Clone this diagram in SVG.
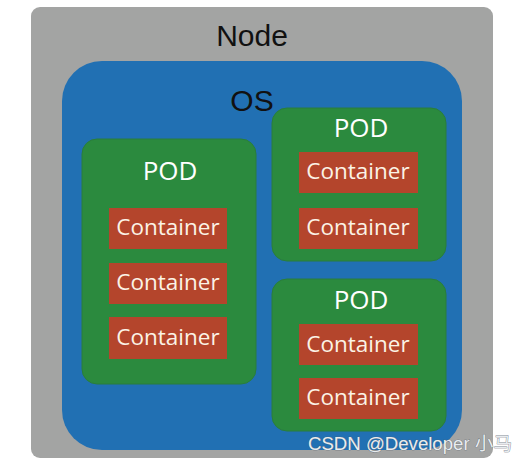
<svg xmlns="http://www.w3.org/2000/svg" width="528" height="463" viewBox="0 0 528 463">
<style>
.pod{fill:#2b8a3e;stroke:#2a7d3c;stroke-width:1}
.ctr{fill:#b4452c}
.ct{font-family:"Open Sans","Noto Sans",sans-serif;font-size:22.5px;fill:#fbf3e6;text-anchor:middle}
.pt{font-family:"Open Sans","Noto Sans",sans-serif;font-size:26px;fill:#ffffff;text-anchor:middle}
.big{font-family:"Liberation Sans",Arial,sans-serif;font-size:30px;fill:#111111;text-anchor:middle}
</style>
<rect width="528" height="463" fill="#ffffff"/>
<g id="node">
<rect x="31" y="7" width="462" height="451" rx="9" fill="#a3a4a3"/>
<text class="big" x="252" y="46">Node</text>
</g>
<g id="os">
<rect x="62" y="61" width="400" height="389" rx="40" fill="#2170b3"/>
<text class="big" x="252" y="111" font-size="29">OS</text>
</g>
<g id="pod1">
<rect class="pod" x="82" y="139" width="174" height="245" rx="15"/>
<text class="pt" x="170" y="180">POD</text>
<g id="c1"><rect class="ctr" x="109" y="208" width="118" height="41"/><text class="ct" x="168" y="235">Container</text></g>
<g id="c2"><rect class="ctr" x="109" y="263" width="118" height="41"/><text class="ct" x="168" y="290">Container</text></g>
<g id="c3"><rect class="ctr" x="109" y="317" width="118" height="42"/><text class="ct" x="168" y="345">Container</text></g>
</g>
<g id="pod2">
<rect class="pod" x="272" y="108" width="174" height="153" rx="15"/>
<text class="pt" x="361" y="137">POD</text>
<g id="c4"><rect class="ctr" x="299" y="152" width="119" height="41"/><text class="ct" x="358" y="179">Container</text></g>
<g id="c5"><rect class="ctr" x="299" y="208" width="119" height="41"/><text class="ct" x="358" y="235">Container</text></g>
</g>
<g id="pod3">
<rect class="pod" x="272" y="279" width="174" height="152" rx="15"/>
<text class="pt" x="361" y="309">POD</text>
<g id="c6"><rect class="ctr" x="299" y="324" width="119" height="41"/><text class="ct" x="358" y="352">Container</text></g>
<g id="c7"><rect class="ctr" x="299" y="378" width="119" height="41"/><text class="ct" x="358" y="405">Container</text></g>
</g>
<g id="connectors"></g>
<text x="308" y="450" font-family="'Liberation Sans','Noto Sans CJK SC',sans-serif" font-size="18" fill="#e8ecef" stroke="#5a6470" stroke-width="0.6" paint-order="stroke" textLength="204" lengthAdjust="spacingAndGlyphs">CSDN @Developer 小马</text>
</svg>
